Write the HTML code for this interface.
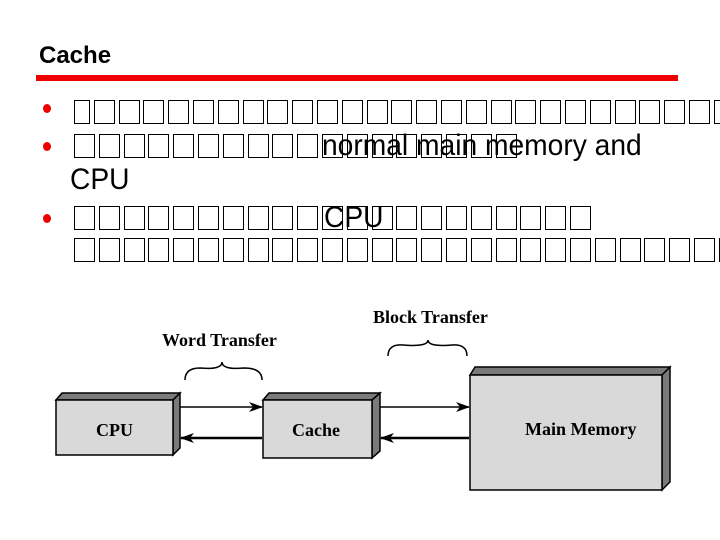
<!DOCTYPE html>
<html><head><style>
body{margin:0;width:720px;height:540px;background:#fff;position:relative;overflow:hidden;font-family:"Liberation Sans",sans-serif}
.a{position:absolute}
.r{position:absolute;left:74px;white-space:nowrap;height:24px;font-size:0}
.b{display:inline-block;width:21px;height:24px;border:1.5px solid #000;margin-right:3.8px;box-sizing:border-box}
.dot{position:absolute;width:8px;height:9px;border-radius:50%;background:#e00}
.t{position:absolute;font-size:30px;line-height:30px;transform:scaleX(.94);transform-origin:left;white-space:nowrap}
</style></head><body>
<div class="a" style="left:39px;top:42px;font-size:24px;font-weight:bold">Cache</div>
<div class="a" style="left:36px;top:75px;width:642px;height:6px;background:#e00"></div>
<div class="dot" style="left:43px;top:104px"></div>
<div class="dot" style="left:43px;top:142px"></div>
<div class="dot" style="left:43px;top:214px"></div>
<div class="r" style="top:100px"><span class="b" style="width:16px"></span><span class="b"></span><span class="b"></span><span class="b"></span><span class="b"></span><span class="b"></span><span class="b"></span><span class="b"></span><span class="b"></span><span class="b"></span><span class="b"></span><span class="b"></span><span class="b"></span><span class="b"></span><span class="b"></span><span class="b"></span><span class="b"></span><span class="b"></span><span class="b"></span><span class="b"></span><span class="b"></span><span class="b"></span><span class="b"></span><span class="b"></span><span class="b"></span><span class="b"></span><span class="b"></span><span class="b"></span></div>
<div class="r" style="top:134px"><span class="b"></span><span class="b"></span><span class="b"></span><span class="b"></span><span class="b"></span><span class="b"></span><span class="b"></span><span class="b"></span><span class="b"></span><span class="b"></span><span class="b"></span><span class="b"></span><span class="b"></span><span class="b"></span><span class="b"></span><span class="b"></span><span class="b"></span><span class="b"></span></div>
<div class="t" style="left:322px;top:131px">normal main memory and</div>
<div class="t" style="left:70px;top:165px">CPU</div>
<div class="r" style="top:206px"><span class="b"></span><span class="b"></span><span class="b"></span><span class="b"></span><span class="b"></span><span class="b"></span><span class="b"></span><span class="b"></span><span class="b"></span><span class="b"></span><span class="b"></span><span class="b"></span><span class="b"></span><span class="b"></span><span class="b"></span><span class="b"></span><span class="b"></span><span class="b"></span><span class="b"></span><span class="b"></span><span class="b"></span></div>
<div class="t" style="left:324px;top:203px">CPU</div>
<div class="r" style="top:238px"><span class="b"></span><span class="b"></span><span class="b"></span><span class="b"></span><span class="b"></span><span class="b"></span><span class="b"></span><span class="b"></span><span class="b"></span><span class="b"></span><span class="b"></span><span class="b"></span><span class="b"></span><span class="b"></span><span class="b"></span><span class="b"></span><span class="b"></span><span class="b"></span><span class="b"></span><span class="b"></span><span class="b"></span><span class="b"></span><span class="b"></span><span class="b"></span><span class="b"></span><span class="b"></span><span class="b"></span><span class="b"></span></div>
<svg class="a" style="left:0;top:0" width="720" height="540" font-family="Liberation Serif,serif" font-weight="bold">
<defs><marker id="m" markerWidth="14" markerHeight="10" refX="13" refY="5" orient="auto" markerUnits="userSpaceOnUse"><path d="M0,0L14,5L0,10L4,5z"/></marker></defs>
<g stroke="#000" stroke-width="1.5">
<polygon points="56,400 62,393 180,393 173,400" fill="#7a7a7a"/>
<polygon points="173,400 180,393 180,448 173,455" fill="#7a7a7a"/>
<rect x="56" y="400" width="117" height="55" fill="#d9d9d9"/>
<polygon points="263,400 269,393 380,393 372,400" fill="#7a7a7a"/>
<polygon points="372,400 380,393 380,451 372,458" fill="#7a7a7a"/>
<rect x="263" y="400" width="109" height="58" fill="#d9d9d9"/>
<polygon points="470,375 475,367 670,367 662,375" fill="#7a7a7a"/>
<polygon points="662,375 670,367 670,482 662,490" fill="#7a7a7a"/>
<rect x="470" y="375" width="192" height="115" fill="#d9d9d9"/>
<line x1="180" y1="407" x2="262" y2="407" marker-end="url(#m)"/>
<line x1="262" y1="438" x2="181" y2="438" stroke-width="2.5" marker-end="url(#m)"/>
<line x1="380" y1="407" x2="469" y2="407" marker-end="url(#m)"/>
<line x1="469" y1="438" x2="381" y2="438" stroke-width="2.5" marker-end="url(#m)"/>
<path d="M185,380 Q185,368 200,368 Q222,370 222,362 Q222,370 244,368 Q262,368 262,380" fill="none"/>
<path d="M388,356 Q388,344 403,345 Q428,347 428,340 Q428,347 452,345 Q467,344 467,356" fill="none"/>
</g>
<text x="96" y="436" font-size="18">CPU</text>
<text x="292" y="436" font-size="18">Cache</text>
<text x="525" y="435" font-size="18">Main Memory</text>
<text x="162" y="346" font-size="18">Word Transfer</text>
<text x="373" y="323" font-size="18">Block Transfer</text>
</svg>
</body></html>
